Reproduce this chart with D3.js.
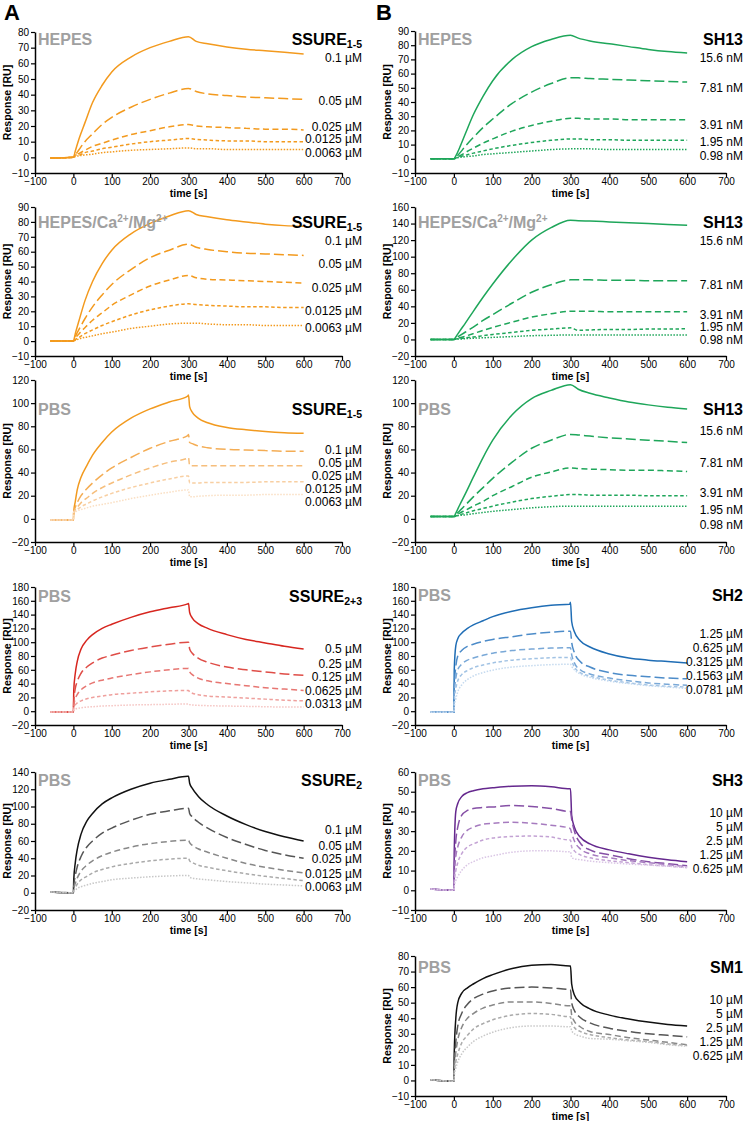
<!DOCTYPE html>
<html><head><meta charset="utf-8">
<script src="https://cdn.jsdelivr.net/npm/d3@7"></script>
<style>
body{margin:0;background:#fff;}
svg text{font-family:"Liberation Sans",Arial,Helvetica,sans-serif;}
</style></head>
<body><svg id="chart" width="745" height="1121"></svg>
<script>
// ---- DATA ----
const timeSlow = [-60, 0, 5, 15, 30, 50, 75, 100, 150, 200, 250, 300, 320, 350, 400, 450, 500, 550, 600];
const timeFast = [-60, 0, 1, 5, 10, 20, 35, 50, 75, 100, 150, 200, 250, 298, 300, 303, 310, 325, 350, 400, 450, 500, 550, 600];
const xTicks = [-100, 0, 100, 200, 300, 400, 500, 600, 700];

const concSSURE15 = ["0.1 µM", "0.05 µM", "0.025 µM", "0.0125 µM", "0.0063 µM"];
const concSSURE23 = ["0.5 µM", "0.25 µM", "0.125 µM", "0.0625 µM", "0.0313 µM"];
const concSH13 = ["15.6 nM", "7.81 nM", "3.91 nM", "1.95 nM", "0.98 nM"];
const concSH2 = ["1.25 µM", "0.625 µM", "0.3125 µM", "0.1563 µM", "0.0781 µM"];
const concSH3 = ["10 µM", "5 µM", "2.5 µM", "1.25 µM", "0.625 µM"];

// A1 HEPES, SSURE1-5 (timeSlow)
const hepesSSURE15 = [
  [-0.5, 0, 4, 12, 22, 35, 46, 54.5, 64, 70, 74, 77, 74, 72.5, 70.5, 69, 68, 67, 66],
  [-0.5, 0, 1.5, 5, 10, 15, 21, 25.5, 32, 37, 41, 44, 42, 40.5, 39.5, 38.5, 38, 37.5, 37],
  [-0.5, 0, 1, 2.5, 4.5, 7, 9, 11, 14.5, 17, 19.5, 21, 20, 19.5, 19, 18.5, 18, 18, 17.5],
  [-0.5, 0, 1.5, 1.5, 3, 4, 5.5, 6.5, 8.5, 10, 11, 12, 11.5, 11, 10.5, 10.5, 10, 10, 10],
  [-0.5, 0, 0.5, 1, 1.5, 2, 3, 3.5, 4.5, 5, 5.5, 6, 5.5, 5.5, 5, 5, 5, 5, 5]
];
// A2 HEPES/Ca/Mg, SSURE1-5 (timeSlow)
const hepesCaMgSSURE15 = [
  [0, 0, 5, 14, 27, 40, 52, 61, 72, 79, 84, 87.5, 85, 83.5, 81.5, 80, 78.5, 77.5, 77],
  [0, 0, 3, 8, 15, 23, 31, 38, 48, 56, 61, 65, 63, 61.5, 60, 59, 58.5, 58, 57.5],
  [0, 0, 2, 5, 9, 14, 19, 24, 31, 37, 41, 44, 42.5, 41.5, 41, 40.5, 40, 39.5, 39],
  [0, 0, 1, 2.5, 5, 7.5, 10.5, 13, 17.5, 21, 23.5, 25, 24.5, 24, 23.5, 23, 23, 22.5, 22.5],
  [0, 0, 0.5, 1.5, 2.5, 3.5, 5, 6, 8.5, 10, 11.5, 12, 12, 11.5, 11, 11, 10.5, 10.5, 10.5]
];
// A3 PBS, SSURE1-5 (timeFast)
const pbsSSURE15 = [
  [-1, -1, 6, 15, 25, 36, 46, 55, 66, 75, 87, 95, 101, 106, 107, 97, 92, 87, 83, 79, 77, 75.5, 74.5, 74],
  [-1, -1, 6, 10, 14, 20, 26, 31, 38, 44, 53, 61, 67, 72, 73, 66, 65, 63, 61.5, 60, 59.5, 59, 58.5, 58.5],
  [-1, -1, 6, 8, 10, 14, 18, 22, 27, 31, 38, 44, 49, 52.5, 53, 46, 46, 46, 46, 46, 46, 46, 46, 46],
  [-1, -1, 6, 7, 8, 10.5, 13, 15.5, 19, 22, 27, 31, 34.5, 37, 37, 31, 31, 31, 31.5, 31.5, 31.5, 32, 32, 32],
  [-1, -1, 6, 6, 7, 8, 9.5, 11, 12.5, 14, 17.5, 20.5, 23, 25, 25, 19, 19, 19.5, 20, 20.5, 20.5, 21, 21, 21]
];
// A4 PBS, SSURE2+3 (timeFast)
const pbsSSURE23 = [
  [-1, -1, 30, 55, 72, 90, 103, 111, 120, 126, 136, 144, 150, 155.5, 156, 143, 135, 127, 120, 111, 104, 99, 94, 90],
  [-1, -1, 15, 33, 43, 55, 64, 70, 77, 81, 88, 93, 97, 100, 100, 90, 84, 77, 71, 64, 60, 57, 54, 52],
  [-1, -1, 8, 18, 24, 31, 37, 41, 45, 48, 53, 57, 60, 62, 62, 57, 53, 48, 44, 40, 37, 34, 32, 30],
  [-1, -1, 4, 9, 12, 15, 18, 20, 22, 24, 26, 28, 29.5, 30, 30, 28, 26, 24, 22, 20.5, 19, 17.5, 16, 15],
  [-1, -1, 1.5, 3, 4, 5, 6, 6.5, 7.5, 8, 9, 9.5, 10, 10.5, 10.5, 9.5, 9, 8.5, 8, 7.5, 7, 6.5, 6, 6]
];
// A5 PBS, SSURE2 (timeFast)
const pbsSSURE2 = [
  [1, 0, 15, 35, 50, 68, 83, 92, 103, 110, 120, 127, 131.5, 135, 135, 127, 121, 112, 102, 89, 79, 71, 65, 60],
  [1, 0, 8, 20, 30, 42, 53, 60, 69, 75, 84, 91, 95, 98, 98, 92, 88, 82, 75, 64, 56, 49, 44, 40],
  [1, 0, 4, 11, 17, 25, 32, 37, 43, 47, 53, 57, 59.5, 61, 61, 58, 55, 51, 47, 40, 34, 29.5, 26, 23],
  [1, 0, 2.5, 6, 10, 15, 19, 23, 27, 30, 34, 37, 39, 40, 40, 37, 35, 32, 29.5, 25.5, 22, 19, 16.5, 14],
  [1, 0, 1, 3, 5, 7, 9, 11, 13, 15, 17, 18.5, 19.5, 20, 20, 18, 17, 16, 15, 13, 11.5, 10, 9, 8]
];
// B1 HEPES, SH13 (timeSlow)
const hepesSH13 = [
  [0, 0, 2, 8, 18, 31, 44, 55, 70, 79, 84, 87, 85, 83, 81, 79, 77, 75.5, 74.5],
  [0, 0, 1, 4, 9, 15, 22, 28, 39, 47, 53, 57, 57, 56.5, 56, 55.5, 55, 54.5, 54],
  [0, 0, 0.5, 2, 4.5, 7.5, 11, 14, 19.5, 23.5, 26.5, 28.5, 28.5, 28, 28, 27.5, 27.5, 27.5, 27.5],
  [0, 0, 0.5, 1.5, 2.5, 4, 5.5, 7, 9.5, 11.5, 13, 14, 14, 13.5, 13.5, 13, 13, 13, 13],
  [0, 0, 0.5, 1, 1.5, 2, 3, 3.5, 4.5, 5.5, 6.5, 7, 7, 7, 6.5, 6.5, 6.5, 6.5, 6.5]
];
// B2 HEPES/Ca/Mg, SH13 (timeSlow)
const hepesCaMgSH13 = [
  [0, 0, 3, 10, 20, 34, 51, 67, 96, 120, 135, 144, 143.5, 143, 142, 141, 140, 139, 138],
  [0, 0, 1.5, 4.5, 9, 15, 23, 30, 44, 57, 66, 72, 72, 72, 71.5, 71.5, 71, 71, 71],
  [0, 0, 1, 2, 4, 7, 11, 14.5, 21, 27, 31, 34, 34, 34, 33.5, 33.5, 33.5, 33.5, 33.5],
  [0, 0, 0.5, 1, 2, 3, 4.5, 6, 8.5, 11, 12.5, 14, 11, 11.5, 12, 12, 12.5, 12.5, 13],
  [0, 0, 0.5, 0.5, 1, 1.5, 2, 2.5, 3.5, 4.5, 5, 5.5, 5.5, 5.5, 5.5, 5.5, 5.5, 5.5, 5.5]
];
// B3 PBS, SH13 (timeSlow)
const pbsSH13 = [
  [2, 2, 5, 12, 22, 36, 53, 68, 90, 104, 111, 116, 112, 108.5, 104.5, 101, 98.5, 96.5, 95],
  [2, 2, 3.5, 7, 12, 19, 27, 35, 49, 61, 68, 73, 72.5, 71.5, 70, 69, 68, 67, 66],
  [2, 2, 3, 5, 7.5, 11, 15, 20, 28, 36, 40.5, 44, 43.5, 43, 42.5, 42, 42, 41.5, 41],
  [2, 2, 2.5, 3.5, 5, 7, 9, 11, 14.5, 17.5, 19.5, 21, 21, 20.5, 20.5, 20.5, 20, 20, 20],
  [2, 2, 2.5, 3, 3.5, 4.5, 5.5, 6.5, 8, 9.5, 10.5, 11, 11, 11, 11, 11, 11, 11, 11]
];
// B4 PBS, SH2 (timeFast)
const pbsSH2 = [
  [-1.5, -1.5, 60, 95, 105, 113, 120, 125, 131, 137, 145, 150, 153.5, 155, 158, 130, 115, 102, 93, 83, 77, 74, 72, 70],
  [-1.5, -1.5, 35, 65, 80, 88, 94, 97, 101, 104, 108, 112, 114.5, 116, 116, 100, 85, 72, 64, 56, 52, 50, 48, 47],
  [-1.5, -1.5, 25, 48, 60, 68, 74, 77, 81, 84, 88, 90, 91.5, 92, 92, 82, 70, 60, 54, 48, 44, 41, 39, 37.5],
  [-1.5, -1.5, 15, 33, 44, 53, 59, 63, 67, 70, 74, 76, 77.5, 78, 78, 73, 64, 56, 51, 45, 41, 38, 36, 35],
  [-1.5, -1.5, 6, 18, 28, 38, 46, 51, 56, 59.5, 64, 66, 67.5, 68, 68, 65, 60, 54, 49, 43.5, 40, 37, 35, 33]
];
// B5 PBS, SH3 (timeFast)
const pbsSH3 = [
  [0.7, 0, 20, 40, 44, 47.5, 49.5, 50.5, 51.5, 52, 52.8, 53, 52.5, 51.5, 51.5, 38, 32, 27, 23.5, 20.5, 18.5, 16.8, 15.5, 14.5],
  [0.7, 0, 10, 25, 32, 38, 40.5, 41.5, 42, 42.3, 43, 42.5, 41.5, 40, 40, 36, 30, 24, 20.5, 18, 16, 14.5, 13.5, 12.5],
  [0.7, 0, 6, 17, 22, 27, 30.5, 32, 33.5, 34, 34.5, 34, 33, 31.5, 31, 29, 25, 21, 18.5, 16.5, 15, 14, 13, 12],
  [0.7, 0, 4, 10, 14, 18.5, 22, 23.5, 25.5, 26.5, 27.3, 27.5, 27, 25.5, 25.5, 22, 20, 18, 16.5, 15, 14, 13, 12.3, 11.5],
  [0.7, 0, 2, 5, 7, 10, 13, 14.5, 16.5, 17.5, 19.3, 20, 20, 19.5, 19.5, 16.5, 16, 15.5, 14.8, 14, 13.3, 12.8, 12.2, 11.5]
];
// B6 PBS, SM1 (timeFast)
const pbsSM1 = [
  [0.5, -0.5, 18, 40, 50, 56, 59.5, 62, 65.5, 68, 72, 74, 74.5, 73.5, 73.5, 62, 55, 50, 46, 42, 39.5, 37.5, 36, 35],
  [0.5, -0.5, 10, 25, 35, 43, 49, 52.5, 55.5, 57.5, 59.5, 60, 59.5, 58.5, 58.5, 50, 45, 40.5, 37, 33.5, 31.5, 30, 29, 28],
  [0.5, -0.5, 7, 18, 26, 34, 40, 43, 46.5, 48.5, 50.5, 50.5, 49.5, 48, 48, 42, 38, 34.5, 31.5, 29.5, 27.5, 26, 24.5, 23],
  [0.5, -0.5, 5, 12, 17, 24, 29, 33, 36.5, 39, 42, 43, 42.5, 41, 41, 37, 34, 31.5, 29.5, 27.5, 26, 25, 23.5, 22.5],
  [0.5, -0.5, 3, 8, 12, 17, 21.5, 25, 28.5, 31, 34, 35, 35, 34.5, 34.5, 32, 30, 28.5, 27, 26.5, 25.5, 24.5, 23, 22]
];

// ---- STYLES / LAYOUT ----
const orange = "#f39a1e", green = "#1ea65a";
const orangeShades = ["#f29a1f", "#f4ad55", "#f6be7c", "#f8cfa2", "#fadfc3"];
const redShades = ["#d7261f", "#df4d47", "#e77672", "#efa09d", "#f5c4c2"];
const grayShades = ["#111111", "#555555", "#888888", "#aaaaaa", "#c8c8c8"];
const blueShades = ["#1f6db5", "#4d8cc9", "#79a8d7", "#a2c3e4", "#c5daef"];
const purpleShades = ["#65288e", "#8650a6", "#a67bbf", "#c3a2d4", "#dac6e5"];
const dashes = [null, "10,4", "6,3.5", "3.5,2.5", "1.5,1.5"];

const colA = {x0: 35, x1: 342, labelX: 362};
const colB = {x0: 415, x1: 726, labelX: 743};

const panels = [
  {col: colA, top: 32, bottom: 173, dom: [-10, 80], step: 10, time: timeSlow, data: hepesSSURE15, colors: Array(5).fill(orange),
   buffer: [["HEPES"]], analyte: ["SSURE", "1-5"], concs: concSSURE15, titleY: 39, concY: [57, 100, 126, 138, 152]},
  {col: colA, top: 207, bottom: 356, dom: [-10, 90], step: 10, time: timeSlow, data: hepesCaMgSSURE15, colors: Array(5).fill(orange),
   buffer: [["HEPES/Ca"], ["2+", "sup"], ["/Mg"], ["2+", "sup"]], analyte: ["SSURE", "1-5"], concs: concSSURE15, titleY: 222, concY: [240, 263, 287, 310, 327]},
  {col: colA, top: 380, bottom: 542, dom: [-20, 120], step: 20, time: timeFast, data: pbsSSURE15, colors: orangeShades,
   buffer: [["PBS"]], analyte: ["SSURE", "1-5"], concs: concSSURE15, titleY: 409, concY: [449, 462, 475, 488, 501]},
  {col: colA, top: 587, bottom: 725, dom: [-20, 180], step: 20, time: timeFast, data: pbsSSURE23, colors: redShades,
   buffer: [["PBS"]], analyte: ["SSURE", "2+3"], concs: concSSURE23, titleY: 596, concY: [648, 663, 676, 690, 703]},
  {col: colA, top: 772, bottom: 910, dom: [-20, 140], step: 20, time: timeFast, data: pbsSSURE2, colors: grayShades,
   buffer: [["PBS"]], analyte: ["SSURE", "2"], concs: concSSURE15, titleY: 780, concY: [829, 845, 858, 873, 886]},
  {col: colB, top: 31, bottom: 173, dom: [-10, 90], step: 10, time: timeSlow, data: hepesSH13, colors: Array(5).fill(green),
   buffer: [["HEPES"]], analyte: ["SH13", ""], concs: concSH13, titleY: 39, concY: [57, 87, 124, 141, 155]},
  {col: colB, top: 207, bottom: 356, dom: [-20, 160], step: 20, time: timeSlow, data: hepesCaMgSH13, colors: Array(5).fill(green),
   buffer: [["HEPES/Ca"], ["2+", "sup"], ["/Mg"], ["2+", "sup"]], analyte: ["SH13", ""], concs: concSH13, titleY: 222, concY: [240, 284, 314, 326.5, 339]},
  {col: colB, top: 380, bottom: 542, dom: [-20, 120], step: 20, time: timeSlow, data: pbsSH13, colors: Array(5).fill(green),
   buffer: [["PBS"]], analyte: ["SH13", ""], concs: concSH13, titleY: 409, concY: [430, 462, 492, 509, 524]},
  {col: colB, top: 587, bottom: 725, dom: [-20, 180], step: 20, time: timeFast, data: pbsSH2, colors: blueShades,
   buffer: [["PBS"]], analyte: ["SH2", ""], concs: concSH2, titleY: 595, concY: [633, 647, 661, 675, 689]},
  {col: colB, top: 772, bottom: 910, dom: [-10, 60], step: 10, time: timeFast, data: pbsSH3, colors: purpleShades,
   buffer: [["PBS"]], analyte: ["SH3", ""], concs: concSH3, titleY: 780, concY: [812, 826, 840, 854, 868]},
  {col: colB, top: 956, bottom: 1096, dom: [-10, 80], step: 10, time: timeFast, data: pbsSM1, colors: grayShades,
   buffer: [["PBS"]], analyte: ["SM1", ""], concs: concSH3, titleY: 967, concY: [999, 1013, 1027, 1041, 1055]}
];

const svg = d3.select("#chart");
svg.append("text").attr("x", 4).attr("y", 20).attr("font-size", 22).attr("font-weight", "bold").text("A");
svg.append("text").attr("x", 376).attr("y", 20).attr("font-size", 22).attr("font-weight", "bold").text("B");

panels.forEach(p => {
  const x = d3.scaleLinear().domain([-100, 700]).range([p.col.x0, p.col.x1]);
  const y = d3.scaleLinear().domain(p.dom).range([p.bottom, p.top]);
  const g = svg.append("g");
  const yTicks = d3.range(p.dom[0], p.dom[1] + 0.001, p.step);

  const ya = g.append("g").attr("transform", `translate(${p.col.x0},0)`)
    .call(d3.axisLeft(y).tickValues(yTicks).tickSize(4).tickSizeOuter(0).tickPadding(2));
  const xa = g.append("g").attr("transform", `translate(0,${p.bottom})`)
    .call(d3.axisBottom(x).tickValues(xTicks).tickSize(4).tickSizeOuter(0).tickPadding(1));
  [ya, xa].forEach(a => {
    a.select(".domain").attr("stroke", "#000").attr("stroke-width", 1.5);
    a.selectAll(".tick line").attr("stroke", "#000").attr("stroke-width", 1.2);
    a.selectAll(".tick text").attr("font-size", 10).attr("fill", "#000")
      .style("font-family", '"Liberation Sans", Arial, sans-serif');
  });

  g.append("text").attr("x", x(300)).attr("y", p.bottom + 24).attr("text-anchor", "middle")
    .attr("font-size", 10.5).attr("font-weight", "bold").text("time [s]");
  g.append("text").attr("transform", `translate(${p.col.x0 - 24},${(p.top + p.bottom) / 2}) rotate(-90)`)
    .attr("text-anchor", "middle").attr("font-size", 10.5).attr("font-weight", "bold").text("Response [RU]");

  const line = d3.line().x((d, i) => x(p.time[i])).y(d => y(d)).curve(d3.curveMonotoneX);
  p.data.forEach((series, k) => {
    g.append("path").datum(series).attr("d", line).attr("fill", "none")
      .attr("stroke", p.colors[k]).attr("stroke-width", 1.5)
      .attr("stroke-dasharray", dashes[k]);
  });

  // buffer label
  const bt = g.append("text").attr("x", p.col.x0 + 3).attr("y", p.titleY + 6)
    .attr("font-size", 16).attr("font-weight", "bold").attr("fill", "#a0a0a0");
  p.buffer.forEach(([t, kind]) => {
    const ts = bt.append("tspan").text(t);
    if (kind === "sup") ts.attr("font-size", 10).attr("dy", -6);
    else if (bt.selectAll("tspan").size() > 1) ts.attr("dy", 6);
  });

  // analyte label
  const at = g.append("text").attr("x", p.col.labelX).attr("y", p.titleY + 6).attr("text-anchor", "end")
    .attr("font-size", 16).attr("font-weight", "bold").attr("fill", "#000");
  at.append("tspan").text(p.analyte[0]);
  if (p.analyte[1]) at.append("tspan").attr("font-size", 10.5).attr("dy", 3).text(p.analyte[1]);

  p.concs.forEach((c, k) => {
    g.append("text").attr("x", p.col.labelX).attr("y", p.concY[k] + 4.5).attr("text-anchor", "end")
      .attr("font-size", 12).attr("fill", "#000").text(c);
  });
});
</script></body></html>
